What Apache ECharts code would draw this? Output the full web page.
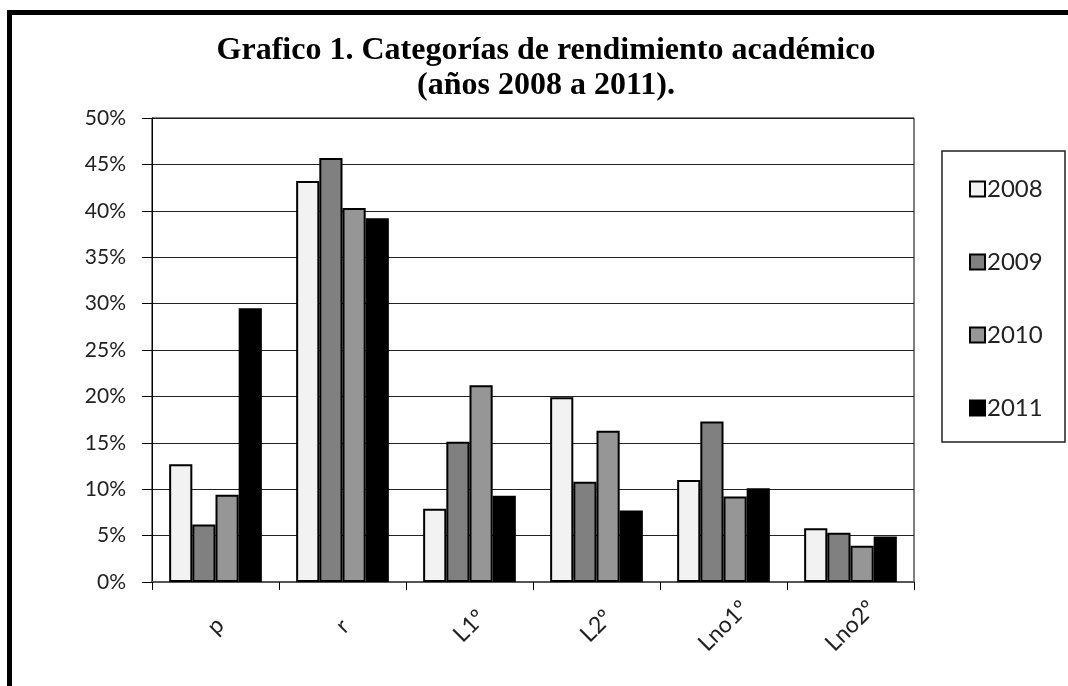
<!DOCTYPE html>
<html>
<head>
<meta charset="utf-8">
<title>Grafico 1</title>
<script src="https://cdn.jsdelivr.net/npm/echarts@6/dist/echarts.min.js"></script>
<style>
  html, body { margin: 0; padding: 0; background: #fff; }
  #main { width: 1068px; height: 686px; }
</style>
</head>
<body>
<div id="main"></div>
<script>
// categorías del eje x
const categories = ['p', 'r', 'L1º', 'L2º', 'Lno1º', 'Lno2º'];
// valores (fracción)
const years = ['2008', '2009', '2010', '2011'];
const values2008 = [0.127, 0.432, 0.079, 0.199, 0.110, 0.058];
const values2009 = [0.062, 0.457, 0.151, 0.108, 0.173, 0.053];
const values2010 = [0.094, 0.403, 0.212, 0.163, 0.092, 0.039];
const values2011 = [0.295, 0.392, 0.093, 0.077, 0.101, 0.049];
const yTicks = { min: 0, max: 0.5, interval: 0.05 };
const titleText = 'Grafico 1. Categorías de rendimiento académico\n(años 2008 a 2011).';

const colors = ['#f2f2f2', '#808080', '#969696', '#000000'];
const seriesData = [values2008, values2009, values2010, values2011];

const labelFont = 'Lato, "Open Sans", sans-serif';

const chart = echarts.init(document.getElementById('main'));

const series = years.map((y, i) => ({
  name: y,
  type: 'bar',
  data: seriesData[i],
  barGap: 0,
  barCategoryGap: '27%',
  itemStyle: {
    color: colors[i],
    borderColor: '#000',
    borderWidth: 2
  }
}));

chart.setOption({
  backgroundColor: '#fff',
  animation: false,
  color: colors,
  graphic: [
    // marco exterior grueso
    {
      type: 'rect',
      shape: { x: 9.5, y: 12.5, width: 1200, height: 800 },
      style: { fill: 'none', stroke: '#000', lineWidth: 5 },
      silent: true
    },
    // título, centrado un poco a la derecha como en el original
    {
      type: 'text',
      x: 546,
      y: 33,
      style: {
        text: titleText,
        align: 'center',
        verticalAlign: 'top',
        fontFamily: '"Liberation Serif", "Times New Roman", serif',
        fontWeight: 'bold',
        fontSize: 32,
        lineHeight: 35,
        fill: '#000'
      },
      silent: true
    },
    // caja de la leyenda
    {
      type: 'rect',
      shape: { x: 942, y: 151, width: 123, height: 291 },
      style: { fill: 'none', stroke: '#222', lineWidth: 1.5 },
      silent: true
    }
  ],
  legend: {
    orient: 'vertical',
    left: 964,
    top: 172,
    itemWidth: 15,
    itemHeight: 15,
    itemGap: 49,
    icon: 'rect',
    data: years,
    itemStyle: { borderColor: '#000', borderWidth: 2 },
    textStyle: {
      fontFamily: labelFont,
      fontSize: 24,
      lineHeight: 24,
      color: '#222',
      padding: [0, 0, 0, -3]
    }
  },
  grid: {
    left: 152,
    right: 154,
    top: 118,
    bottom: 104,
    show: true,
    borderColor: '#000',
    borderWidth: 1,
    containLabel: false
  },
  xAxis: {
    type: 'category',
    data: categories,
    boundaryGap: true,
    axisLine: { lineStyle: { color: '#555', width: 2 } },
    axisTick: { show: true, length: 8, lineStyle: { color: '#000', width: 1 } },
    axisLabel: {
      rotate: 45,
      margin: 44,
      align: 'center',
      verticalAlign: 'middle',
      fontFamily: labelFont,
      fontSize: 23,
      color: '#222',
      interval: 0
    },
    splitLine: { show: false }
  },
  yAxis: {
    type: 'value',
    min: yTicks.min,
    max: yTicks.max,
    interval: yTicks.interval,
    axisLine: { show: true, lineStyle: { color: '#000', width: 1 } },
    axisTick: { show: true, length: 10, lineStyle: { color: '#000' } },
    axisLabel: {
      margin: 26,
      fontFamily: labelFont,
      fontSize: 21,
      color: '#222',
      formatter: v => Math.round(v * 100) + '%'
    },
    splitLine: { show: true, lineStyle: { color: '#222', width: 1 } }
  },
  series: series
});
</script>
</body>
</html>
